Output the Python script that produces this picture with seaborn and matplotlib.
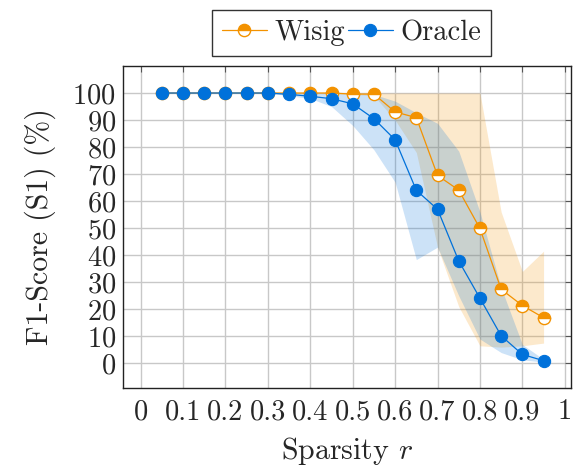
import numpy as np
import pandas as pd
import matplotlib
matplotlib.use("Agg")
import matplotlib.pyplot as plt
import seaborn as sns

# ---- data ----
sparsity = [0.05, 0.10, 0.15, 0.20, 0.25, 0.30, 0.35, 0.40, 0.45, 0.50,
            0.55, 0.60, 0.65, 0.70, 0.75, 0.80, 0.85, 0.90, 0.95]
wisig_f1 = [100, 100, 100, 100, 100, 100, 100, 100, 100, 99.6,
            99.6, 93.0, 90.9, 69.5, 64.1, 49.9, 27.4, 21.4, 16.9]
wisig_upper = [100, 100, 100, 100, 100, 100, 100, 100, 100, 100,
               100, 100, 100, 100, 100, 100, 56, 34, 41.5]
wisig_lower = [100, 100, 100, 100, 100, 100, 100, 100, 99.8, 99.5,
               99, 90, 78, 43, 21, 6.5, 6, 6.5, 7.5]
oracle_f1 = [100, 100, 100, 100, 100, 100, 99.5, 98.8, 97.9, 96.0,
             90.5, 82.7, 64.0, 57.0, 37.9, 24.1, 10.2, 3.3, 1.0]
oracle_upper = [100, 100, 100, 100, 100, 100, 100, 100, 99.8, 99.6,
                99.5, 97, 92.7, 88.8, 78.5, 56, 28, 7, 1.5]
oracle_lower = [100, 100, 100, 100, 100, 100, 99, 98, 95, 88,
                79, 67, 38.4, 43, 25, 9, 4, 1.3, 0.5]
series_names = ["Wisig", "Oracle"]
x_ticks = [0, 0.1, 0.2, 0.3, 0.4, 0.5, 0.6, 0.7, 0.8, 0.9, 1]
x_ticklabels = ["0", "0.1", "0.2", "0.3", "0.4", "0.5", "0.6", "0.7", "0.8", "0.9", "1"]
y_ticks = [0, 10, 20, 30, 40, 50, 60, 70, 80, 90, 100]

ORANGE = "#F39200"
BLUE = "#0071DA"
FS = 20.5
FS_LAB = 21.5

sns.set_style("whitegrid")
plt.rcParams["font.family"] = ["serif"]
plt.rcParams["font.serif"] = ["cmr10", "DejaVu Serif"]
plt.rcParams["mathtext.fontset"] = "cm"
plt.rcParams["axes.formatter.use_mathtext"] = True
plt.rcParams["axes.unicode_minus"] = False

df_w = pd.DataFrame({"r": sparsity, "f1": wisig_f1})
df_o = pd.DataFrame({"r": sparsity, "f1": oracle_f1})

fig = plt.figure(figsize=(5.74, 4.68), dpi=100)
ax = fig.add_axes([0.214, 0.171, 0.781, 0.688])

ax.fill_between(sparsity, wisig_lower, wisig_upper, color=ORANGE, alpha=0.2,
                linewidth=0, zorder=1)
ax.fill_between(sparsity, oracle_lower, oracle_upper, color=BLUE, alpha=0.2,
                linewidth=0, zorder=1)

sns.lineplot(data=df_w, x="r", y="f1", ax=ax, color=ORANGE, linewidth=0.9,
             marker="o", markersize=8.8, fillstyle="top",
             markerfacecolor=ORANGE, markerfacecoloralt="white",
             markeredgecolor=ORANGE, markeredgewidth=1.0,
             label=series_names[0], zorder=3)
sns.lineplot(data=df_o, x="r", y="f1", ax=ax, color=BLUE, linewidth=0.9,
             marker="o", markersize=8.8, markeredgecolor=BLUE,
             markeredgewidth=0.8, label=series_names[1], zorder=4)

ax.set_xlim(-0.042, 1.015)
ax.set_ylim(-9.1, 110)
ax.set_xticks(x_ticks)
ax.set_xticklabels(x_ticklabels)
ax.set_yticks(y_ticks)

ax.grid(True, color="#c8c8c8", linewidth=1.0)
ax.set_axisbelow(True)
for s in ax.spines.values():
    s.set_color("#222222")
    s.set_linewidth(1.0)
ax.tick_params(axis="both", which="both", direction="in", length=4,
               width=0.8, color="#555555", top=True, right=True,
               labelsize=FS)
ax.tick_params(axis="x", pad=8)
ax.tick_params(axis="y", pad=5)

ax.set_xlabel("Sparsity $r$", fontsize=FS_LAB, labelpad=7)
ax.set_ylabel("F1-Score (S1) (%)", fontsize=FS_LAB, labelpad=12)

leg = ax.legend(loc="lower center", bbox_to_anchor=(0.51, 1.03), ncol=2,
                fontsize=FS, frameon=True, fancybox=False,
                handlelength=1.6, handletextpad=0.25, columnspacing=0.1,
                borderpad=0.35, borderaxespad=0.0)
leg.get_frame().set_edgecolor("#333333")
leg.get_frame().set_linewidth(1.0)
leg.get_frame().set_alpha(1)

fig.savefig("out.png", dpi=100)
